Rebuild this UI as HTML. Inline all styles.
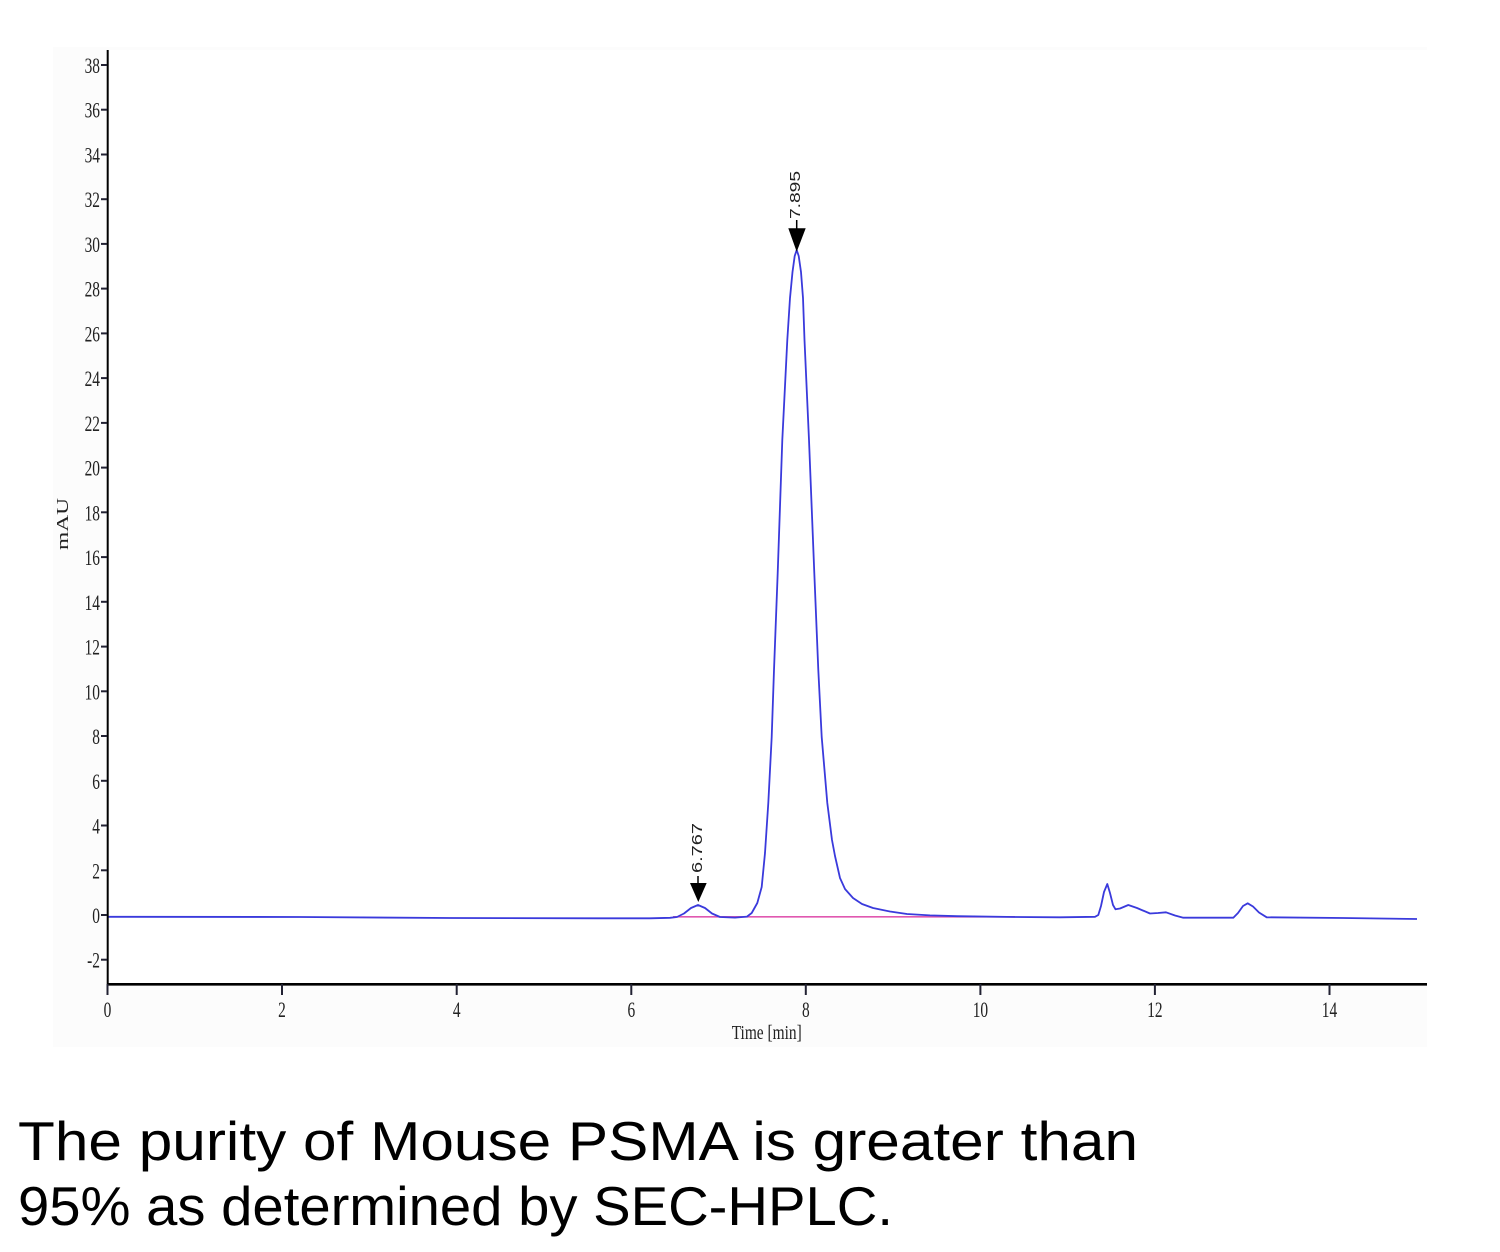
<!DOCTYPE html>
<html><head><meta charset="utf-8"><style>
html,body{margin:0;padding:0;background:#fff;}
svg{display:block;}
</style></head><body>
<svg width="1500" height="1252" viewBox="0 0 1500 1252" xmlns="http://www.w3.org/2000/svg">
<rect x="0" y="0" width="1500" height="1252" fill="#ffffff"/>
<rect x="53" y="47" width="1374" height="1000" fill="#fcfcfc"/>
<rect x="110" y="50" width="1317" height="933" fill="#ffffff"/>

<!-- pink baseline -->
<line x1="673" y1="916.8" x2="1015" y2="916.8" stroke="#e058b0" stroke-width="1.6"/>

<!-- trace -->
<path fill="none" stroke="#3a3adc" stroke-width="1.8" stroke-linejoin="round" d="M107,916.8 L300,917 L450,918 L600,918.3 L650,918.3 L670,917.8 L677,917 L684,913.5 L691,908 L698,905 L705,908 L712,913.5 L720,917 L735,917.6 L747,916.6 L751.7,913 L757.3,903 L761.7,887 L765,853 L768.3,803 L771.7,737 L774,670 L777.7,573 L782.3,440 L787.3,340 L790,298 L792.5,272 L794.7,256 L796.7,250 L798.7,256 L801,272 L803,298 L804.5,340 L809,440 L814.3,573 L818.3,670 L821.7,737 L827.3,803 L832,840 L835,856 L840,878 L845,889 L853,898 L862,904 L873,908 L890,911.5 L907,914 L930,915.4 L957,916.2 L1015,917 L1060,917.3 L1095,916.8 L1098.3,915 L1101,906 L1104,892 L1107.3,884 L1110,893 L1113,905 L1115.5,909.3 L1120,908.5 L1128.3,905 L1137,908 L1150,913.5 L1158,913 L1166,912.3 L1175,915.5 L1183.3,917.7 L1233.3,917.7 L1238,913 L1243,906 L1247.7,903.3 L1253,906.5 L1259,912.5 L1266.7,917.3 L1343,918 L1417,919"/>

<!-- axes -->
<line x1="107.7" y1="50" x2="107.7" y2="985" stroke="#000" stroke-width="2"/>
<line x1="107" y1="984.3" x2="1427" y2="984.3" stroke="#000" stroke-width="2.6"/>

<!-- y ticks & labels -->
<g stroke="#223" stroke-width="2">
<line x1="101" y1="65" x2="107" y2="65"/>
<line x1="101" y1="109.7" x2="107" y2="109.7"/>
<line x1="101" y1="154.5" x2="107" y2="154.5"/>
<line x1="101" y1="199.2" x2="107" y2="199.2"/>
<line x1="101" y1="243.9" x2="107" y2="243.9"/>
<line x1="101" y1="288.6" x2="107" y2="288.6"/>
<line x1="101" y1="333.4" x2="107" y2="333.4"/>
<line x1="101" y1="378.1" x2="107" y2="378.1"/>
<line x1="101" y1="422.9" x2="107" y2="422.9"/>
<line x1="101" y1="467.6" x2="107" y2="467.6"/>
<line x1="101" y1="512.3" x2="107" y2="512.3"/>
<line x1="101" y1="557.1" x2="107" y2="557.1"/>
<line x1="101" y1="601.8" x2="107" y2="601.8"/>
<line x1="101" y1="646.6" x2="107" y2="646.6"/>
<line x1="101" y1="691.3" x2="107" y2="691.3"/>
<line x1="101" y1="736" x2="107" y2="736"/>
<line x1="101" y1="780.8" x2="107" y2="780.8"/>
<line x1="101" y1="825.5" x2="107" y2="825.5"/>
<line x1="101" y1="870.3" x2="107" y2="870.3"/>
<line x1="101" y1="915" x2="107" y2="915"/>
<line x1="101" y1="959.7" x2="107" y2="959.7"/>
</g>
<g font-family="Liberation Serif, serif" font-size="22" fill="#222" text-anchor="end">
<text transform="translate(100,73) scale(0.7,1)">38</text>
<text transform="translate(100,117.7) scale(0.7,1)">36</text>
<text transform="translate(100,162.5) scale(0.7,1)">34</text>
<text transform="translate(100,207.2) scale(0.7,1)">32</text>
<text transform="translate(100,251.9) scale(0.7,1)">30</text>
<text transform="translate(100,296.6) scale(0.7,1)">28</text>
<text transform="translate(100,341.4) scale(0.7,1)">26</text>
<text transform="translate(100,386.1) scale(0.7,1)">24</text>
<text transform="translate(100,430.9) scale(0.7,1)">22</text>
<text transform="translate(100,475.6) scale(0.7,1)">20</text>
<text transform="translate(100,520.3) scale(0.7,1)">18</text>
<text transform="translate(100,565.1) scale(0.7,1)">16</text>
<text transform="translate(100,609.8) scale(0.7,1)">14</text>
<text transform="translate(100,654.6) scale(0.7,1)">12</text>
<text transform="translate(100,699.3) scale(0.7,1)">10</text>
<text transform="translate(100,744) scale(0.7,1)">8</text>
<text transform="translate(100,788.8) scale(0.7,1)">6</text>
<text transform="translate(100,833.5) scale(0.7,1)">4</text>
<text transform="translate(100,878.3) scale(0.7,1)">2</text>
<text transform="translate(100,923) scale(0.7,1)">0</text>
<text transform="translate(100,967.7) scale(0.7,1)">-2</text>
</g>

<!-- x ticks & labels -->
<g stroke="#223" stroke-width="2">
<line x1="107.5" y1="984" x2="107.5" y2="995"/>
<line x1="282" y1="984" x2="282" y2="995"/>
<line x1="456.7" y1="984" x2="456.7" y2="995"/>
<line x1="631.3" y1="984" x2="631.3" y2="995"/>
<line x1="805.8" y1="984" x2="805.8" y2="995"/>
<line x1="980.4" y1="984" x2="980.4" y2="995"/>
<line x1="1154.9" y1="984" x2="1154.9" y2="995"/>
<line x1="1329.5" y1="984" x2="1329.5" y2="995"/>
</g>
<g font-family="Liberation Serif, serif" font-size="22" fill="#222" text-anchor="middle">
<text transform="translate(107.5,1017) scale(0.7,1)">0</text>
<text transform="translate(282,1017) scale(0.7,1)">2</text>
<text transform="translate(456.7,1017) scale(0.7,1)">4</text>
<text transform="translate(631.3,1017) scale(0.7,1)">6</text>
<text transform="translate(805.8,1017) scale(0.7,1)">8</text>
<text transform="translate(980.4,1017) scale(0.7,1)">10</text>
<text transform="translate(1154.9,1017) scale(0.7,1)">12</text>
<text transform="translate(1329.5,1017) scale(0.7,1)">14</text>
</g>

<!-- axis titles -->
<text x="731.7" y="1039" font-family="Liberation Serif, serif" font-size="20" fill="#222" textLength="70" lengthAdjust="spacingAndGlyphs">Time [min]</text>
<text transform="translate(68,550) rotate(-90)" font-family="Liberation Serif, serif" font-size="17" fill="#222" textLength="52" lengthAdjust="spacingAndGlyphs">mAU</text>

<!-- peak markers -->
<line x1="698" y1="876" x2="698" y2="884" stroke="#000" stroke-width="1.5"/>
<polygon points="690,883 706.7,883 698.3,902" fill="#000"/>
<text transform="translate(702,873) rotate(-90)" font-family="Liberation Sans, sans-serif" font-size="15" fill="#222" textLength="50" lengthAdjust="spacingAndGlyphs">6.767</text>

<line x1="796.7" y1="220" x2="796.7" y2="229" stroke="#000" stroke-width="1.5"/>
<polygon points="788.3,228.3 805.7,228.3 796.7,251.7" fill="#000"/>
<text transform="translate(800,219) rotate(-90)" font-family="Liberation Sans, sans-serif" font-size="15" fill="#222" textLength="48" lengthAdjust="spacingAndGlyphs">7.895</text>

<!-- caption -->
<text x="18" y="1160" font-family="Liberation Sans, sans-serif" font-size="55" fill="#000" textLength="1120" lengthAdjust="spacingAndGlyphs">The purity of Mouse PSMA is greater than</text>
<text x="18" y="1225" font-family="Liberation Sans, sans-serif" font-size="55" fill="#000" textLength="875" lengthAdjust="spacingAndGlyphs">95% as determined by SEC-HPLC.</text>
</svg>
</body></html>
